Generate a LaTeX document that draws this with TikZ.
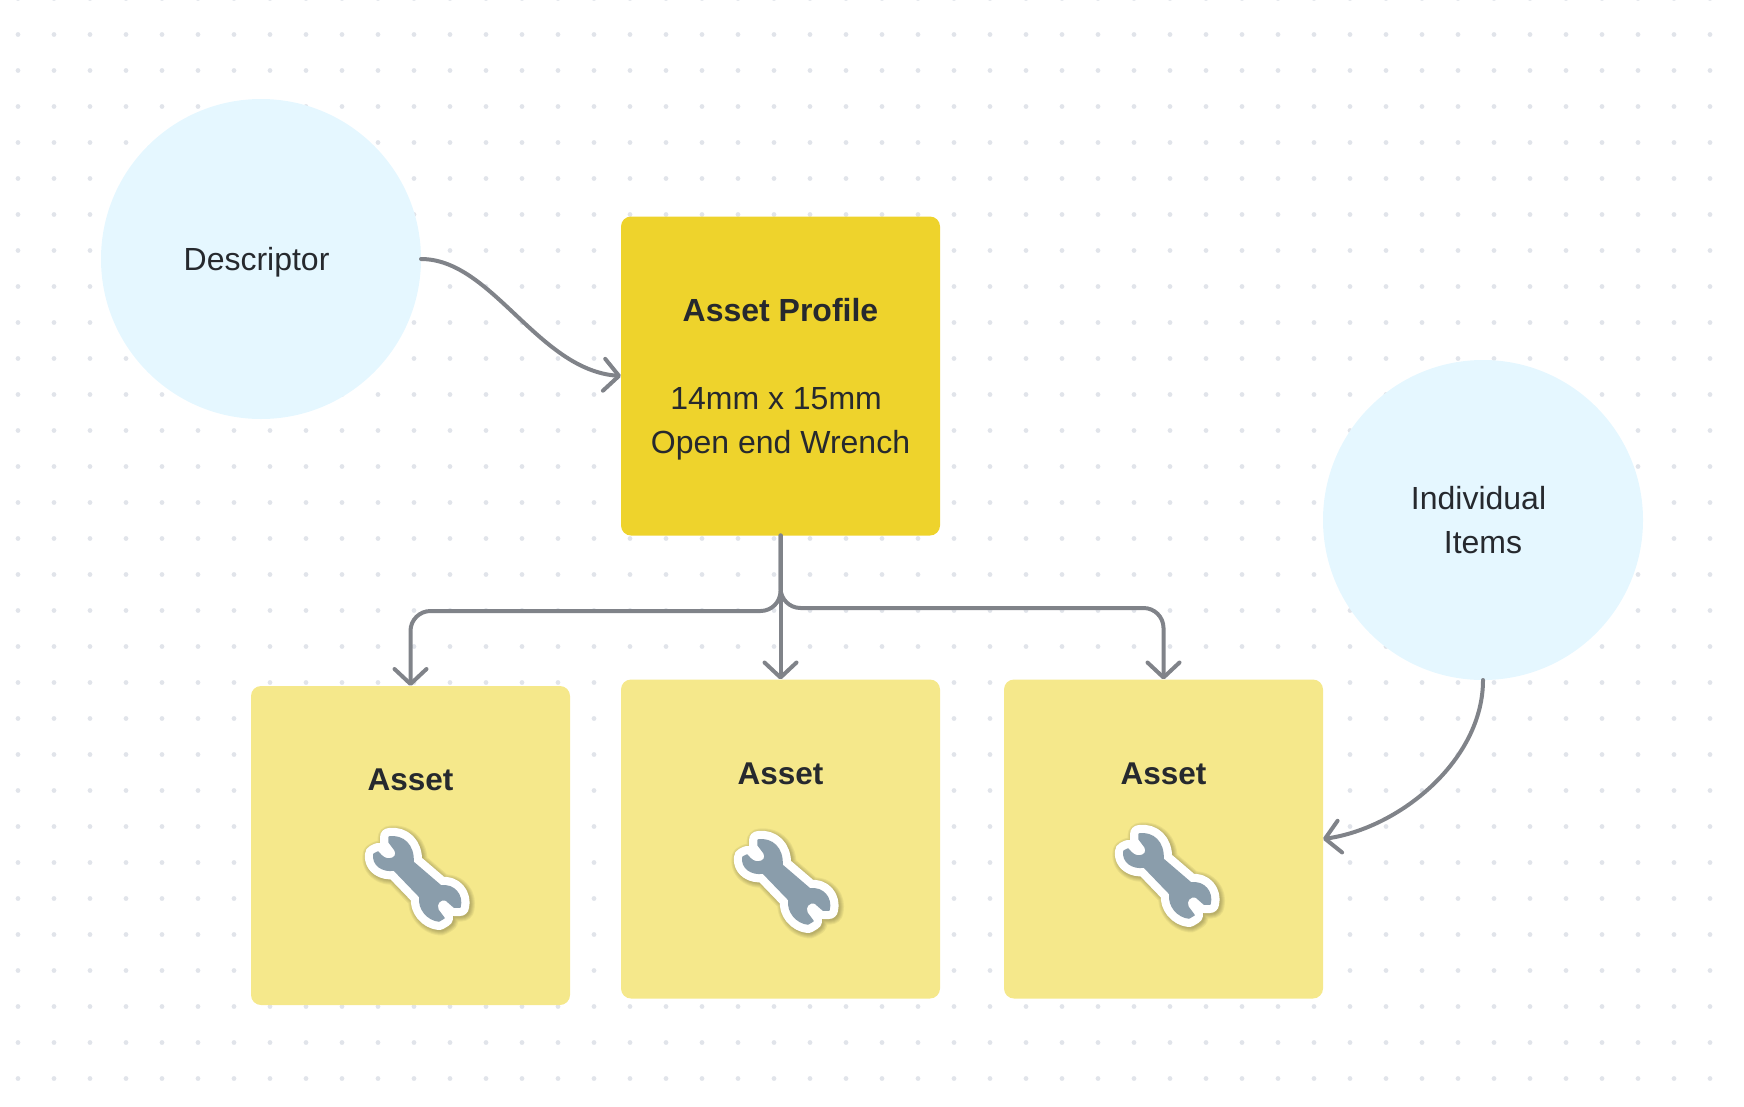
\documentclass[tikz,border=0pt]{standalone}
\usepackage{fontspec}
\setmainfont{Liberation Sans}
\usetikzlibrary{arrows.meta,positioning}
\definecolor{dotgrey}{HTML}{E1E4EA}
\definecolor{circleblue}{HTML}{E5F7FF}
\definecolor{profileyellow}{HTML}{EED32C}
\definecolor{assetyellow}{HTML}{F5E88B}
\definecolor{linegrey}{HTML}{808389}
\definecolor{inkdark}{HTML}{26292E}
\definecolor{wrenchgrey}{HTML}{8A9DAB}
\newcommand{\wrenchpath}{(-42,-23) -- (-38,-25) .. controls (-34,-20) and (-31,-18) .. (-27,-18) .. controls (-22,-18) and (-18,-22) .. (-21,-27) -- (-27,-35) -- (-27,-40) .. controls (-13,-42) and (-2,-32) .. (-3,-15) -- (25,9) .. controls (38,7) and (47,18) .. (44,30) -- (38,30) -- (30,23) .. controls (24,21) and (19,27) .. (22,33) -- (28,41) -- (23,44) .. controls (12,43) and (2,32) .. (4,20) -- (-22,-7) .. controls (-33,-5) and (-44,-12) .. (-42,-23) -- cycle}
\tikzset{
wrench/.pic={
\foreach \w in {26,24,22,20,18}{\draw[black,opacity=.05,line width=\w pt,line join=round,xshift=1.5pt,yshift=-1.5pt] \wrenchpath;}
\fill[white,draw=white,line width=18pt,line join=round] \wrenchpath;
\fill[wrenchgrey,draw=wrenchgrey,line width=1.5pt,line join=round] \wrenchpath;
}}
\begin{document}
\begin{tikzpicture}[x=1pt,y=-1pt,
font=\fontsize{32}{44}\selectfont,text=inkdark,
bubble/.style={circle,fill=circleblue,inner sep=0,outer sep=0,minimum size=320pt,align=center},
card/.style={rounded corners=10pt,inner sep=0,outer sep=0,minimum width=319pt,minimum height=319pt,align=center},
assetcard/.style={card,fill=assetyellow},
assettitle/.style={inner sep=0,font=\fontsize{31.5}{44}\selectfont\bfseries},
arr/.style={-{Straight Barb[length=15pt,width=32pt,round]},line width=4pt,draw=linegrey,line cap=round}]
\useasboundingbox (0,0) rectangle (1744,1106);
\foreach \i in {0,...,47}{\foreach \j in {0,...,30}{\fill[dotgrey] ({18+36*\i},{-1.5+36*\j}) circle (2.4pt);}}
\node[bubble,text height=30pt](descriptor) at (261,259){Descriptor\ };
\node[bubble](items) at (1483,520){Individual\ \mbox{}\\Items};
\node[card,fill=profileyellow](profile) at (780.5,376){\rule{0pt}{30pt}\textbf{Asset Profile}\\[44pt]14mm x 15mm\ \mbox{}\\Open end Wrench};
\node[assetcard,below=144pt of profile](assetmid){};
\node[assetcard,left=51pt of assetmid,yshift=-6.5pt](assetleft){};
\node[assetcard,right=64pt of assetmid](assetright){};
\node[assettitle,below=83pt of assetleft.north](titleleft){Asset};
\node[assettitle,below=83pt of assetmid.north](titlemid){Asset};
\node[assettitle,below=83pt of assetright.north](titleright){Asset};
\pic at (416,877){wrench};
\pic at (785,880){wrench};
\pic at (1166,874){wrench};
\draw[arr](descriptor.east) .. controls (492,259) and (538,370) .. (profile.west);
\draw[arr,rounded corners=20pt](profile.south) -- ++(0,75.5) -| (assetleft.north);
\draw[arr](profile.south) -- (assetmid.north);
\draw[arr,rounded corners=20pt](profile.south) -- ++(0,72.5) -| (assetright.north);
\draw[arr](items.south) .. controls (1483,760) and (1400,828) .. (assetright.east);
\end{tikzpicture}
\end{document}
